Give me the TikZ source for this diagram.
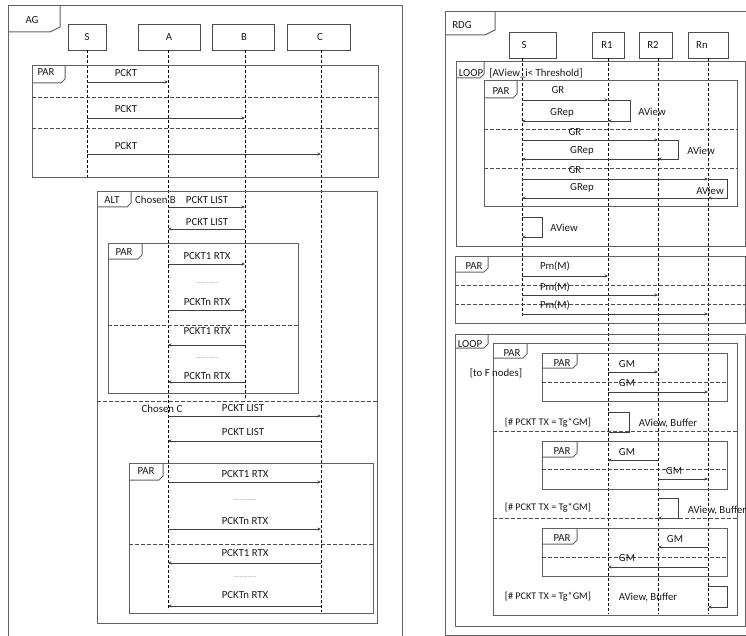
\documentclass[tikz,border=0pt]{standalone}
\usepackage{fontspec}
\setmainfont{Carlito}
\usetikzlibrary{arrows.meta}
\newcommand\fragtab[4]{\draw[frame] (#1,#4) -- ({#3-4},#4) -- (#3,{#4-4}) -- (#3,#2);}
\begin{document}
\begin{tikzpicture}[x=1pt,y=-1pt,
  frame/.style={draw=black!62, line width=1pt},
  divider/.style={draw=black!70, line width=0.75pt, dash pattern=on 3.5pt off 2.5pt},
  life/.style={draw=black, line width=0.65pt, dash pattern=on 3pt off 2pt},
  msg/.style={draw=black!75, line width=0.75pt, -{Stealth[length=3.5pt,width=3pt]}},
  lbl/.style={font=\fontsize{10.8}{12}\selectfont, inner sep=0pt, text=black!90},
  sml/.style={font=\fontsize{10.2}{11}\selectfont, inner sep=0pt, text=black!90},
  dots/.style={font=\fontsize{5}{6}\selectfont, inner sep=0pt, text=black!70},
  box/.style={draw=black!70, line width=0.9pt, fill=white, inner sep=0pt, minimum height=26pt},
]
\useasboundingbox (0,0) rectangle (746,636);
\clip (0,0) rectangle (746,636);

% ================= AG =================
\draw[frame] (8,6) rectangle (402,650);
\draw[frame] (8,32) -- (50,32) -- (60,27) -- (60,6);
\node[lbl] (tAG) at (32,20) {AG};

\node[box, minimum width=38pt] (bS) at (87,37) {};
\node[box, minimum width=62pt] (bA) at (169,37) {};
\node[box, minimum width=62pt] (bB) at (243,37) {};
\node[box, minimum width=63pt] (bC) at (318.5,37) {};
\node[lbl] (tS) at (87,37) {S};
\node[lbl] (tA) at (169,37) {A};
\node[lbl] (tB) at (244,37) {B};
\node[lbl] (tC) at (320,37) {C};

\coordinate (lS) at (87,50);
\coordinate (lA) at (168,50);
\coordinate (lB) at (245,50);
\coordinate (lC) at (321,50);
\draw[life] (lS) -- (lS |- 0,178);
\draw[life] (lA) -- (lA |- 0,610);
\draw[life] (lB) -- (lB |- 0,400);
\draw[life] (lC) -- (lC |- 0,612);

% PAR 1
\draw[frame] (32,66) rectangle (378,178);
\fragtab{32}{66}{65}{83}
\node[lbl] (p1) at (46,72) {PAR};
\draw[divider] (32,97) -- (378,97);
\draw[divider] (32,128) -- (378,128);
\draw[msg] (lS |- 0,82) -- (lA |- 0,82);
\node[lbl] (g1) at (126,73) {PCKT};
\draw[msg] (lS |- 0,118) -- (lB |- 0,118);
\node[lbl] (g2) at (126,109) {PCKT};
\draw[msg] (lS |- 0,154) -- (lC |- 0,154);
\node[lbl] (g3) at (126,146) {PCKT};

% ALT
\draw[frame] (97,192) rectangle (377,623);
\fragtab{97}{192}{131}{207}
\node[lbl] (alt) at (112,200) {ALT};
\node[lbl] (chB) at (155.5,200) {Chosen B};
\draw[msg] (lA |- 0,207) -- (lB |- 0,207);
\node[lbl] (g4) at (207,200) {PCKT LIST};
\draw[msg] (lB |- 0,229) -- (lA |- 0,229);
\node[lbl] (g5) at (207,222) {PCKT LIST};

\draw[frame] (108,243) rectangle (298,393);
\fragtab{108}{243}{142}{259}
\node[lbl] (p2) at (124,252) {PAR};
\draw[msg] (lA |- 0,264) -- (lB |- 0,264);
\node[lbl] (g6) at (207,256) {PCKT1 RTX};
\node[dots] (d1) at (207,283) {..................};
\draw[msg] (lA |- 0,310) -- (lB |- 0,310);
\node[lbl] (g7) at (207,302) {PCKTn RTX};
\draw[divider] (108,325) -- (298,325);
\draw[msg] (lB |- 0,345) -- (lA |- 0,345);
\node[lbl] (g8) at (207,331) {PCKT1 RTX};
\node[dots] (d2) at (207,358) {..................};
\draw[msg] (lB |- 0,382) -- (lA |- 0,382);
\node[lbl] (g9) at (207,376) {PCKTn RTX};

\draw[divider] (97,401) -- (377,401);
\node[lbl] (chC) at (162,409) {Chosen C};
\draw[msg] (lA |- 0,416) -- (lC |- 0,416);
\node[lbl] (g10) at (243,408) {PCKT LIST};
\draw[msg] (lC |- 0,441) -- (lA |- 0,441);
\node[lbl] (g11) at (243,432) {PCKT LIST};

\draw[frame] (129,463) rectangle (373,613);
\fragtab{129}{463}{163}{480}
\node[lbl] (p3) at (146,471) {PAR};
\draw[msg] (lA |- 0,482) -- (lC |- 0,482);
\node[lbl] (g12) at (245,474) {PCKT1 RTX};
\node[dots] (d3) at (245,500) {..................};
\draw[msg] (lA |- 0,529) -- (lC |- 0,529);
\node[lbl] (g13) at (245,521) {PCKTn RTX};
\draw[divider] (129,544) -- (373,544);
\draw[msg] (lC |- 0,563) -- (lA |- 0,563);
\node[lbl] (g14) at (245,553) {PCKT1 RTX};
\node[dots] (d4) at (245,577) {..................};
\draw[msg] (lC |- 0,606) -- (lA |- 0,606);
\node[lbl] (g15) at (245,595) {PCKTn RTX};

% ================= RDG =================
\draw[frame] (445,12) rectangle (760,635);
\draw[frame] (445,35) -- (485,35) -- (495,30) -- (495,12);
\node[lbl] (tRDG) at (462,25) {RDG};

\node[box, minimum width=47pt] (rbS) at (532.5,45) {};
\node[box, minimum width=32pt] (rb1) at (608,45) {};
\node[box, minimum width=33pt] (rb2) at (655.5,45) {};
\node[box, minimum width=40pt] (rbn) at (708,45) {};
\node[lbl] (rtS) at (524,45) {S};
\node[lbl] (rt1) at (607,45) {R1};
\node[lbl] (rt2) at (653,45) {R2};
\node[lbl] (rtn) at (702,45) {Rn};

\coordinate (mS) at (522,58);
\coordinate (m1) at (608,58);
\coordinate (m2) at (658,58);
\coordinate (mn) at (708,58);
\draw[life] (mS) -- (mS |- 0,318);
\draw[life] (m1) -- (m1 |- 0,614);
\draw[life] (m2) -- (m2 |- 0,614);
\draw[life] (mn) -- (mn |- 0,614);

% LOOP 1
\draw[frame] (456,62) rectangle (745,246);
\fragtab{456}{62}{484}{78}
\node[lbl] (lp1) at (471,73) {LOOP};
\node[lbl] (lc1) at (536,73) {[AView\_i< Threshold]};

\draw[frame] (484,81) rectangle (737,207);
\fragtab{484}{81}{517}{98}
\node[lbl] (rp1) at (501,91) {PAR};
\draw[msg] (mS |- 0,100) -- (m1 |- 0,100);
\node[lbl] (r1) at (558,90) {GR};
\draw[msg] (m1 |- 0,100) -- ++(22,0) -- ++(0,21) -- (m1 |- 0,121);
\draw[msg] (m1 |- 0,121) -- (mS |- 0,121);
\node[lbl] (r2) at (562,113) {GRep};
\node[lbl] (r3) at (652,112) {AView};
\draw[divider] (484,129) -- (737,129);
\node[lbl] (r4) at (575,132) {GR};
\draw[msg] (mS |- 0,140) -- (m2 |- 0,140);
\draw[msg] (m2 |- 0,140) -- ++(20,0) -- ++(0,19) -- (m2 |- 0,159);
\draw[msg] (m2 |- 0,159) -- (mS |- 0,159);
\node[lbl] (r5) at (582,151) {GRep};
\node[lbl] (r6) at (701,151) {AView};
\draw[divider] (484,168) -- (737,168);
\node[lbl] (r7) at (575,170) {GR};
\draw[msg] (mS |- 0,179) -- (mn |- 0,179);
\draw[msg] (mn |- 0,179) -- ++(19,0) -- ++(0,19) -- (mn |- 0,198);
\draw[msg] (mn |- 0,198) -- (mS |- 0,198);
\node[lbl] (r8) at (582,188) {GRep};
\node[lbl] (r9) at (710,191) {AView};
\draw[msg] (mS |- 0,217) -- ++(20,0) -- ++(0,20) -- (mS |- 0,237);
\node[lbl] (r10) at (564,228) {AView};

% PAR Pm(M)
\draw[frame] (455,256) rectangle (745,323);
\fragtab{455}{256}{488}{272}
\node[lbl] (rp2) at (474,266) {PAR};
\draw[msg] (mS |- 0,276) -- (m1 |- 0,276);
\node[lbl] (r11) at (555,266) {Pm(M)};
\draw[divider] (455,285) -- (745,285);
\node[lbl] (r12) at (555,287) {Pm(M)};
\draw[msg] (mS |- 0,295) -- (m2 |- 0,295);
\draw[divider] (455,304) -- (745,304);
\node[lbl] (r13) at (555,305) {Pm(M)};
\draw[msg] (mS |- 0,314) -- (mn |- 0,314);

% LOOP 2
\draw[frame] (455,334) rectangle (745,626);
\fragtab{455}{334}{488}{348}
\node[lbl] (lp2) at (470,344) {LOOP};
\draw[frame] (493,343) rectangle (737,615);
\fragtab{493}{343}{527}{358}
\node[lbl] (rp3) at (512,353) {PAR};
\node[lbl] (tf) at (496,373) {[to F nodes]};

\draw[frame] (542,353) rectangle (727,401);
\fragtab{542}{353}{577}{368}
\node[lbl] (rp4) at (562,363) {PAR};
\draw[msg] (m1 |- 0,372) -- (m2 |- 0,372);
\node[lbl] (r14) at (627,364) {GM};
\draw[divider] (542,382) -- (727,382);
\node[lbl] (r15) at (627,383) {GM};
\draw[msg] (m1 |- 0,392) -- (mn |- 0,392);
\node[sml] (r16) at (548,423) {[\# PCKT TX = Tg*GM]};
\draw[msg] (m1 |- 0,412) -- ++(21,0) -- ++(0,20) -- (m1 |- 0,432);
\node[lbl] (r17) at (668,423) {AView, Buffer};
\draw[divider] (493,431) -- (737,431);

\draw[frame] (542,441) rectangle (727,489);
\fragtab{542}{441}{577}{457}
\node[lbl] (rp5) at (562,451) {PAR};
\draw[msg] (m2 |- 0,460) -- (m1 |- 0,460);
\node[lbl] (r18) at (627,452) {GM};
\draw[divider] (542,469) -- (727,469);
\node[lbl] (r19) at (674,471) {GM};
\draw[msg] (m2 |- 0,479) -- (mn |- 0,479);
\node[sml] (r20) at (548,508) {[\# PCKT TX = Tg*GM]};
\draw[msg] (m2 |- 0,498) -- ++(20,0) -- ++(0,20) -- (m2 |- 0,518);
\node[lbl] (r21) at (717,510) {AView, Buffer};
\draw[divider] (493,518) -- (737,518);

\draw[frame] (542,528) rectangle (727,576);
\fragtab{542}{528}{577}{544}
\node[lbl] (rp6) at (562,538) {PAR};
\draw[msg] (mn |- 0,547) -- (m2 |- 0,547);
\node[lbl] (r22) at (675,539) {GM};
\draw[divider] (542,557) -- (727,557);
\node[lbl] (r23) at (627,558) {GM};
\draw[msg] (mn |- 0,567) -- (m1 |- 0,567);
\node[sml] (r24) at (548,597) {[\# PCKT TX = Tg*GM]};
\node[lbl] (r25) at (648,597) {AView, Buffer};
\draw[msg] (mn |- 0,586) -- ++(19,0) -- ++(0,21) -- (mn |- 0,607);
\end{tikzpicture}
\end{document}
